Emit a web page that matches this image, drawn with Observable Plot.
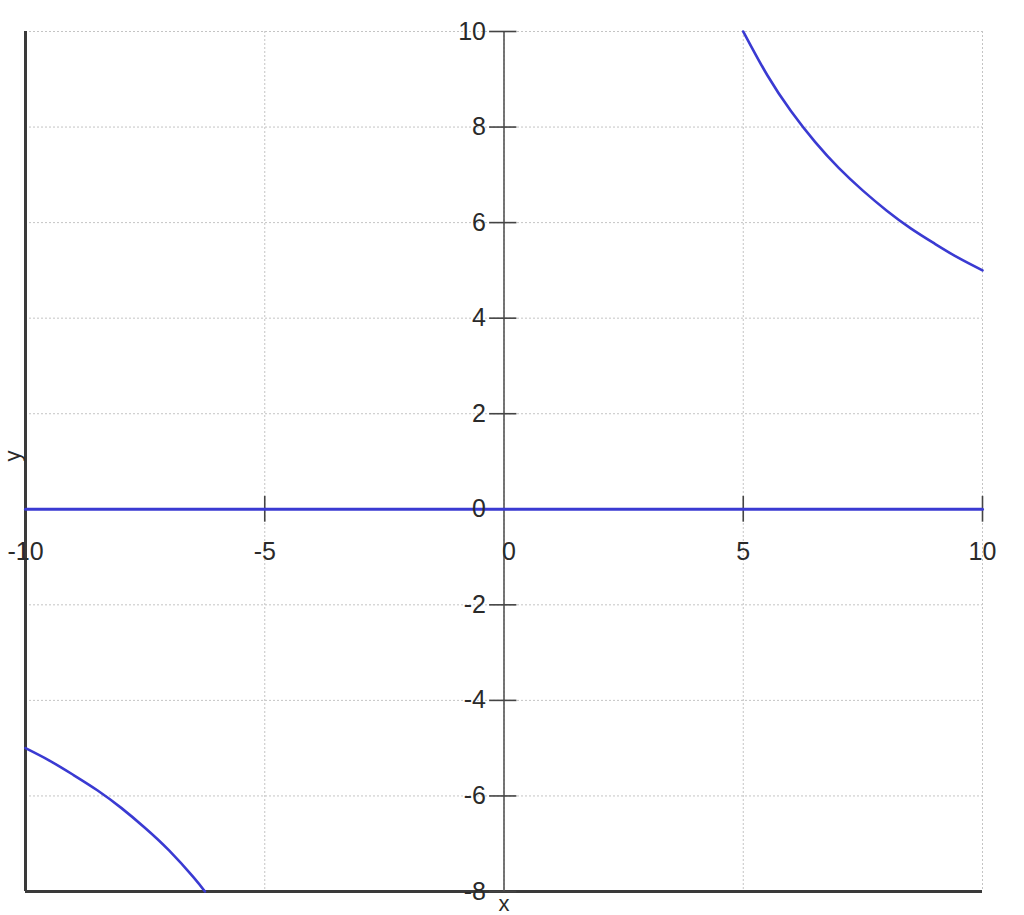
<!DOCTYPE html>
<html>
<head>
<meta charset="utf-8">
<script src="https://cdn.jsdelivr.net/npm/d3@7"></script>
<script src="https://cdn.jsdelivr.net/npm/@observablehq/plot@0.6"></script>
<style>
  html, body { margin: 0; padding: 0; background: #fff; }
  #chart svg { display: block; }
</style>
</head>
<body>
<div id="chart"></div>
<script>
// Tick values and labels
const xTicks = [-10, -5, 0, 5, 10];
const xTickLabels = ["-10", "-5", "0", "5", "10"];
const yTicks = [-8, -6, -4, -2, 0, 2, 4, 6, 8, 10];
const yTickLabels = ["-8", "-6", "-4", "-2", "0", "2", "4", "6", "8", "10"];
const xGrid = [-5, 0, 5, 10];
const yGrid = [-6, -4, -2, 2, 4, 6, 8, 10];

// Series: the zero line
const zeroX = [-10, 10];
const zeroY = [0, 0];

// Series: right branch of the curve
const rightX = [5, 5.5, 6, 6.5, 7, 7.5, 8, 8.5, 9, 9.5, 10];
const rightY = [10, 9.09, 8.33, 7.69, 7.14, 6.67, 6.25, 5.88, 5.56, 5.26, 5];

// Series: left branch of the curve
const leftX = [-10, -9.5, -9, -8.5, -8, -7.5, -7, -6.5, -6.25];
const leftY = [-5, -5.26, -5.56, -5.88, -6.25, -6.67, -7.14, -7.69, -8];

const zip = (xs, ys) => xs.map((x, i) => ({x, y: ys[i]}));
const zeroData = zip(zeroX, zeroY);
const rightData = zip(rightX, rightY);
const leftData = zip(leftX, leftY);
const xLabelData = xTicks.map((v, i) => ({v, t: xTickLabels[i]}));
const yLabelData = yTicks.map((v, i) => ({v, t: yTickLabels[i]}));

const blue = "#3a3ad2";
const ink = "#2a2a2a";
const grid = "#c4c4c4";

const chart = Plot.plot({
  width: 1024,
  height: 915,
  marginLeft: 25,
  marginRight: 42,
  marginTop: 31,
  marginBottom: 24,
  x: {domain: [-10, 10], axis: null},
  y: {domain: [-8, 10], axis: null},
  style: {fontFamily: "'Liberation Sans', Arial, sans-serif", background: "#fff", overflow: "visible"},
  marks: [
    // dotted grid
    Plot.ruleY(yGrid, {stroke: grid, strokeWidth: 1, strokeDasharray: "2,2"}),
    Plot.ruleX(xGrid, {stroke: grid, strokeWidth: 1, strokeDasharray: "2,2"}),
    // frame left and bottom
    Plot.ruleX([-10], {stroke: "#3a3a3a", strokeWidth: 3}),
    Plot.ruleY([-8], {stroke: "#3a3a3a", strokeWidth: 3}),
    // y axis through origin
    Plot.ruleX([0], {stroke: "#555", strokeWidth: 1.6}),
    // y ticks
    Plot.ruleY(yTicks, {x1: -0.3, x2: 0.27, stroke: "#444", strokeWidth: 1.6}),
    // x ticks
    Plot.ruleX(xTicks.filter(d => d !== 0 && d !== -10), {y1: -0.27, y2: 0.27, stroke: "#444", strokeWidth: 1.6}),
    // data lines
    Plot.line(zeroData, {x: "x", y: "y", stroke: blue, strokeWidth: 3}),
    Plot.line(rightData, {x: "x", y: "y", stroke: blue, strokeWidth: 2.6, curve: "natural"}),
    Plot.line(leftData, {x: "x", y: "y", stroke: blue, strokeWidth: 2.6, curve: "natural"}),
    // y tick labels
    Plot.text(yLabelData, {x: 0, y: "v", text: "t", textAnchor: "end", dx: -18, fontSize: 25, fill: ink}),
    // x tick labels
    Plot.text(xLabelData.filter(d => d.v !== 0), {x: "v", y: 0, text: "t", textAnchor: "middle", dy: 43, fontSize: 25, fill: ink}),
    Plot.text(xLabelData.filter(d => d.v === 0), {x: "v", y: 0, text: "t", textAnchor: "middle", dx: 5, dy: 43, fontSize: 25, fill: ink}),
    // axis labels
    Plot.text(["y"], {frameAnchor: "left", dx: -13, rotate: -90, fontSize: 22, fill: ink}),
    Plot.text(["x"], {x: 0, frameAnchor: "bottom", dy: 19, fontSize: 22, fill: ink})
  ]
});
document.getElementById("chart").appendChild(chart);
</script>
</body>
</html>
